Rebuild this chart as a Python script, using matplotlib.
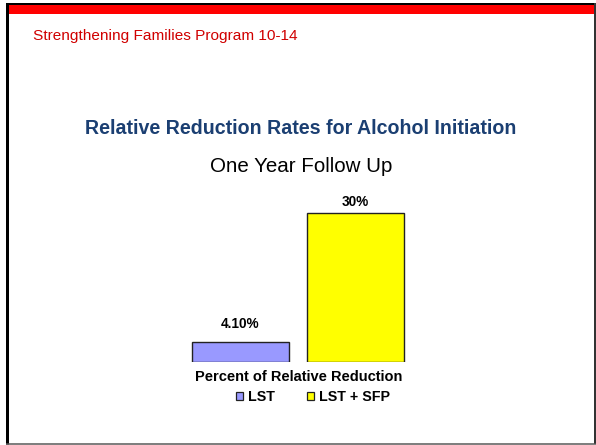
import matplotlib

matplotlib.use("Agg")
import matplotlib.pyplot as plt
from matplotlib.lines import Line2D
from matplotlib.patches import Rectangle

W, H, DPI = 596, 445, 100

# data
categories = ["LST", "LST + SFP"]
values = [4.1, 30.0]
value_labels = ["4.10%", "30%"]

header = "Strengthening Families Program 10-14"
title = "Relative Reduction Rates for Alcohol Initiation"
subtitle = "One Year Follow Up"
axis_label = "Percent of Relative Reduction"

BAR_COLORS = ["#9999FF", "#FFFF00"]
RED = "#FF0000"
HEADER_RED = "#D00000"
NAVY = "#1B3F72"

plt.rcParams["font.family"] = ["Liberation Sans", "DejaVu Sans"]


def fx(px):
    return px / W


def fy(py):
    return 1 - py / H


def frame_line(x0, y0, x1, y1, color, width):
    fig.add_artist(Line2D([fx(x0), fx(x1)], [fy(y0), fy(y1)],
                          transform=fig.transFigure, color=color,
                          linewidth=width * 72 / DPI, solid_capstyle="butt"))


fig = plt.figure(figsize=(W / DPI, H / DPI), dpi=DPI)
fig.patch.set_facecolor("white")

# slide frame and red band
fig.add_artist(Rectangle((fx(9), fy(13.5)), fx(585), 9 / H,
                         transform=fig.transFigure, facecolor=RED,
                         edgecolor="none"))
frame_line(6, 4, 596, 4, "black", 2)
frame_line(7.5, 3, 7.5, 444, "black", 3)
frame_line(594.5, 3, 594.5, 444, "#333333", 2)
frame_line(6, 443.5, 596, 443.5, "#555555", 1.5)

fig.text(fx(33), fy(36), header, color=HEADER_RED, fontsize=11.1,
         ha="left", va="center")
fig.text(fx(301), fy(128), title, color=NAVY, fontsize=14.1,
         fontweight="bold", ha="center", va="center")
fig.text(fx(301), fy(167), subtitle, color="black", fontsize=14.8,
         ha="center", va="center")

# bars
ymax = 34
px_per_unit = (362 - 213.3) / 30
ax = fig.add_axes([fx(183), fy(362), fx(230), ymax * px_per_unit / H])
x = range(len(categories))
bars = ax.bar(x, values, width=0.84, color=BAR_COLORS, edgecolor="#222222",
              linewidth=1.0)
ax.set_xlim(-0.5, 1.5)
ax.set_ylim(0, ymax)
ax.axis("off")

label_pads = [11, 4]
for rect, text, pad in zip(bars, value_labels, label_pads):
    ax.annotate(text, (rect.get_x() + rect.get_width() / 2, rect.get_height()),
                xytext=(0, pad * 72 / DPI), textcoords="offset points",
                ha="center", va="bottom", fontsize=9.8, fontweight="bold")

fig.text(fx(299), fy(377), axis_label, fontsize=10.5, fontweight="bold",
         ha="center", va="center")

handles = [Rectangle((0, 0), 1, 1, facecolor=c, edgecolor="#222222",
                     linewidth=0.9) for c in BAR_COLORS]
fig.legend(handles, categories, loc="center", bbox_to_anchor=(fx(313), fy(397)),
           ncol=2, frameon=False, prop={"weight": "bold", "size": 10.3},
           handlelength=0.5, handleheight=0.5, handletextpad=0.35,
           columnspacing=2.2)

fig.savefig("out.png", dpi=DPI)
